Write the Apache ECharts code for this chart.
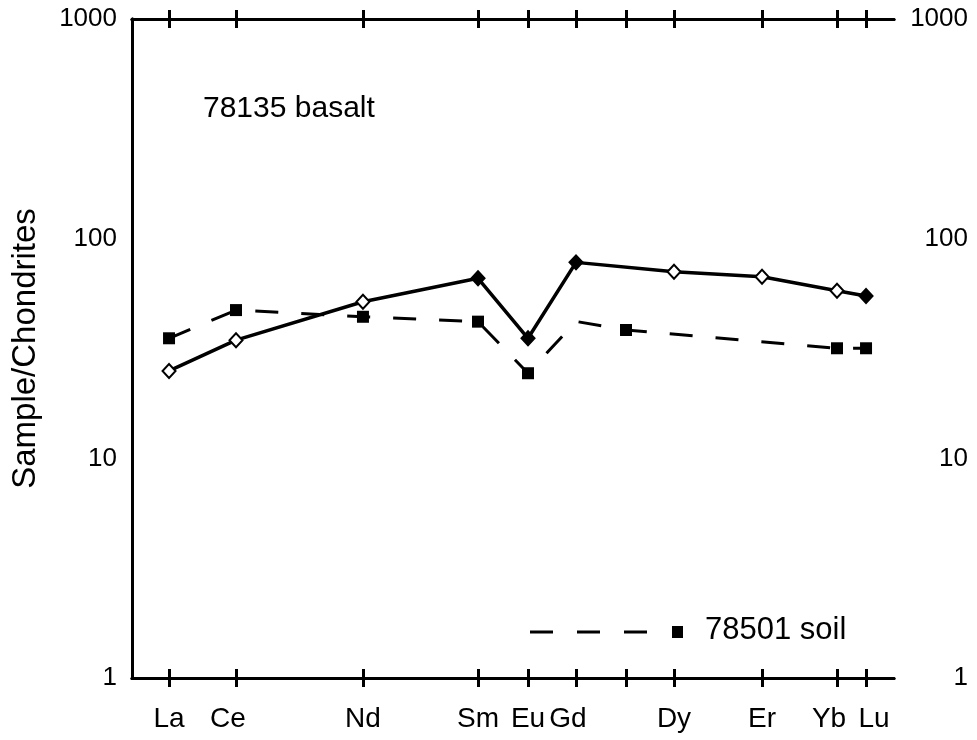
<!DOCTYPE html>
<html>
<head>
<meta charset="utf-8">
<script src="https://cdn.jsdelivr.net/npm/echarts@6/dist/echarts.min.js"></script>
<style>html,body{margin:0;padding:0;background:#fff;}#c{width:977px;height:740px;}</style>
</head>
<body>
<div id="c"></div>
<script>
// Elements (REE) and their x positions (relative units, ionic-radius style spacing)
var elements = ['La','Ce','Nd','Sm','Eu','Gd','Tb','Dy','Er','Yb','Lu'];
var xPos = [4.86, 13.65, 30.31, 45.41, 51.97, 58.27, 64.83, 71.13, 82.68, 92.52, 96.33];
var labelledElements = ['La','Ce','Nd','Sm','Eu','Gd','Dy','Er','Yb','Lu'];
// 78135 basalt (solid, open diamonds)
var basalt = [25, 34.5, 51.6, 66, 35.2, 78, null, 70.7, 67.1, 57.9, 54.8];
var basaltFilled = ['Sm','Eu','Gd','Lu'];
// 78501 soil (dashed, filled squares)
var soil = [35.2, 47.3, 44.1, 41.9, 24.4, 42, 38.4, null, null, 31.7, 31.7];
var soilUnmarked = ['Gd'];
var yTicks = [1, 10, 100, 1000];

var FONT = 'Liberation Sans';
var chart = echarts.init(document.getElementById('c'), null, {renderer: 'canvas'});

function nameAt(v) {
  var best = 0, d = 1e9;
  for (var i = 0; i < xPos.length; i++) {
    var dd = Math.abs(xPos[i] - v);
    if (dd < d) { d = dd; best = i; }
  }
  return elements[best];
}
function valsFor(names) {
  return xPos.filter(function (v, i) { return names.indexOf(elements[i]) >= 0; });
}
var mainLabelVals = valsFor(labelledElements.filter(function (e) { return e !== 'Yb'; }));
var ybLabelVals = valsFor(['Yb']);

var richStyles = {
  n: {fontFamily: FONT, fontSize: 28, color: '#000'},
  sl: {fontFamily: FONT, fontSize: 28, color: '#000', padding: [0, 16, 0, 0]},
  sr: {fontFamily: FONT, fontSize: 28, color: '#000', padding: [0, 0, 0, 16]}
};
var shiftLeft = ['Ce', 'Gd', 'Yb'];
var shiftRight = ['Lu'];
function labelFmt(v) {
  var n = nameAt(v);
  var k = shiftLeft.indexOf(n) >= 0 ? 'sl' : (shiftRight.indexOf(n) >= 0 ? 'sr' : 'n');
  return '{' + k + '|' + n + '}';
}

function xAx(position, inside, labelVals) {
  return {
    type: 'value', position: position, min: 0, max: 100,
    axisLine: {show: true, onZero: false, lineStyle: {color: '#000', width: 3}},
    axisTick: {show: true, inside: inside, length: 9, customValues: xPos, lineStyle: {color: '#000', width: 3}},
    axisLabel: labelVals ? {
      show: true, customValues: labelVals, margin: 27, hideOverlap: false,
      showMinLabel: true, showMaxLabel: true,
      fontFamily: FONT, fontSize: 28, color: '#000',
      formatter: labelFmt, rich: richStyles
    } : {show: false},
    splitLine: {show: false}
  };
}

var basaltData = elements.map(function (e, i) {
  var filled = basaltFilled.indexOf(e) >= 0;
  return {value: [xPos[i], basalt[i]], itemStyle: {color: filled ? '#000' : '#fff', borderColor: '#000', borderWidth: 2}};
});
var soilData = elements.map(function (e, i) {
  var d = {value: [xPos[i], soil[i]]};
  if (soilUnmarked.indexOf(e) >= 0) d.symbol = 'none';
  return d;
});
function plain(v) { return String(Math.round(v)); }

var option = {
  backgroundColor: '#fff',
  animation: false,
  grid: {left: 132, right: 83, top: 19, bottom: 62, containLabel: false},
  xAxis: [xAx('bottom', false, mainLabelVals), xAx('bottom', true, ybLabelVals), xAx('top', false, null), xAx('top', true, null)],
  yAxis: [
    {
      type: 'log', logBase: 10, min: 1, max: 1000, position: 'left',
      name: 'Sample/Chondrites', nameLocation: 'middle', nameGap: 90, nameRotate: 90,
      nameTextStyle: {fontFamily: FONT, fontSize: 33, color: '#000'},
      axisLine: {show: true, lineStyle: {color: '#000', width: 3}},
      axisTick: {show: false},
      axisLabel: {fontFamily: FONT, fontSize: 26, color: '#000', margin: 15, customValues: yTicks, formatter: plain},
      splitLine: {show: false}
    },
    {
      type: 'log', logBase: 10, min: 1, max: 1000, position: 'right',
      axisLine: {show: true, lineStyle: {color: '#000', width: 3}},
      axisTick: {show: false},
      axisLabel: {fontFamily: FONT, fontSize: 26, color: '#000', margin: 74, align: 'right', customValues: yTicks, formatter: plain},
      splitLine: {show: false}
    }
  ],
  series: [
    {
      name: '78501 soil', type: 'line', xAxisIndex: 0, yAxisIndex: 0,
      data: soilData, connectNulls: true,
      symbol: 'rect', symbolSize: 12,
      lineStyle: {color: '#000', width: 3, type: [23, 23]},
      itemStyle: {color: '#000'},
      z: 2
    },
    {
      name: '78135 basalt', type: 'line', xAxisIndex: 0, yAxisIndex: 0,
      data: basaltData, connectNulls: true,
      symbol: 'diamond', symbolSize: [13, 14],
      lineStyle: {color: '#000', width: 3.5},
      z: 3
    }
  ],
  graphic: [
    {type: 'text', left: 203, top: 94, style: {text: '78135 basalt', font: '30px "Liberation Sans"', fill: '#000'}},
    {type: 'line', shape: {x1: 530, y1: 632, x2: 650, y2: 632}, style: {stroke: '#000', lineWidth: 3, lineDash: [23, 24]}},
    {type: 'rect', shape: {x: 672, y: 626, width: 11, height: 12}, style: {fill: '#000'}},
    {type: 'text', left: 705, top: 615, style: {text: '78501 soil', font: '31px "Liberation Sans"', fill: '#000'}}
  ]
};
chart.setOption(option);
</script>
</body>
</html>
